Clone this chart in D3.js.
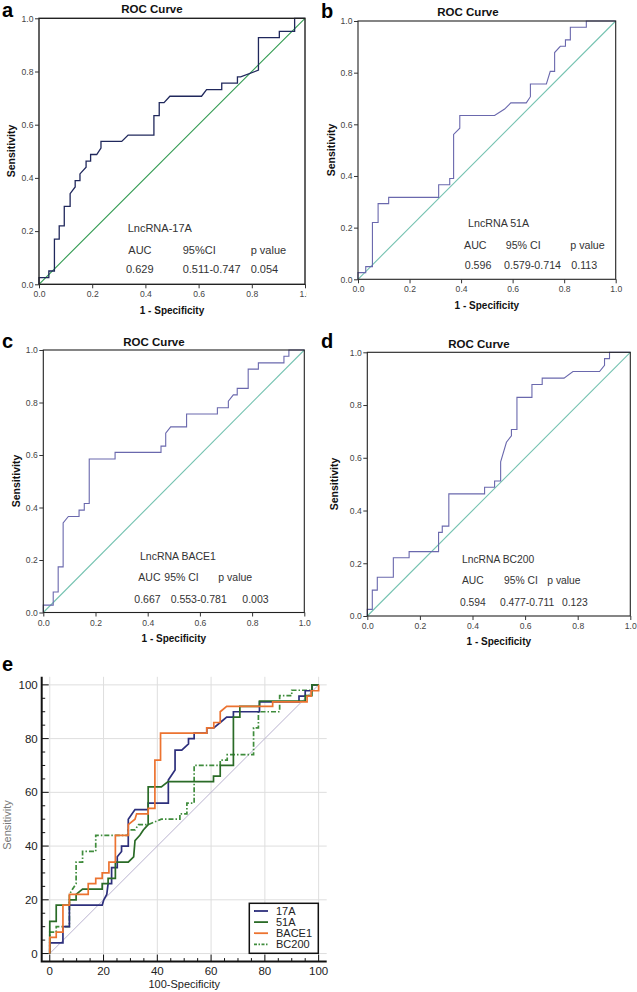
<!DOCTYPE html>
<html><head><meta charset="utf-8">
<script src="https://cdn.jsdelivr.net/npm/d3@7"></script>
<style>body{margin:0;background:#fff} svg{display:block;font-family:"Liberation Sans",Arial,sans-serif}</style>
</head><body><svg id="c" width="637" height="992"></svg>
<script>
// ---------- DATA ----------
// Panel a: LncRNA-17A ROC (1-specificity, sensitivity)
const fprA = [0,0,0.037,0.037,0.058,0.058,0.076,0.076,0.095,0.095,0.117,0.117,0.136,0.136,0.154,0.154,0.177,0.177,0.194,0.194,0.217,0.233,0.233,0.311,0.335,0.432,0.432,0.452,0.452,0.47,0.492,0.611,0.63,0.687,0.687,0.746,0.746,0.758,0.825,0.825,0.9035,0.9035,0.961,0.961,1];
const tprA = [0,0.025,0.025,0.05,0.05,0.17,0.17,0.22,0.22,0.293,0.293,0.341,0.366,0.39,0.39,0.415,0.44,0.463,0.463,0.488,0.488,0.512,0.537,0.537,0.561,0.561,0.634,0.634,0.683,0.683,0.707,0.707,0.732,0.732,0.756,0.756,0.78,0.78,0.805,0.927,0.927,0.951,0.951,1,1];
// Panel b: LncRNA 51A
const fprB = [0,0,0.03,0.03,0.056,0.056,0.078,0.078,0.119,0.119,0.313,0.313,0.356,0.356,0.371,0.371,0.395,0.395,0.53,0.569,0.593,0.653,0.669,0.669,0.731,0.746,0.763,0.763,0.785,0.805,0.805,0.824,0.824,0.886,0.886,1];
const tprB = [0,0.026,0.026,0.049,0.049,0.22,0.22,0.293,0.293,0.317,0.317,0.366,0.366,0.39,0.39,0.561,0.585,0.634,0.634,0.659,0.683,0.683,0.707,0.756,0.756,0.805,0.805,0.878,0.902,0.902,0.927,0.927,0.976,0.976,1,1];
// Panel c: LncRNA BACE1
const fprC = [0,0,0.038,0.038,0.057,0.057,0.076,0.076,0.096,0.137,0.137,0.157,0.157,0.176,0.176,0.275,0.275,0.451,0.451,0.469,0.469,0.488,0.549,0.549,0.667,0.667,0.709,0.709,0.728,0.743,0.743,0.785,0.785,0.824,0.824,0.922,0.922,0.941,0.941,1];
const tprC = [0,0.028,0.028,0.078,0.078,0.174,0.174,0.341,0.366,0.366,0.39,0.39,0.415,0.415,0.585,0.585,0.61,0.61,0.634,0.634,0.683,0.707,0.707,0.756,0.756,0.78,0.78,0.805,0.829,0.829,0.854,0.854,0.927,0.927,0.951,0.951,0.976,0.976,1,1];
// Panel d: LncRNA BC200
const fprD = [0,0,0.019,0.019,0.038,0.038,0.099,0.099,0.159,0.159,0.271,0.271,0.285,0.285,0.31,0.31,0.446,0.446,0.484,0.484,0.507,0.507,0.529,0.548,0.548,0.569,0.569,0.626,0.626,0.665,0.665,0.748,0.782,0.883,0.902,0.902,0.921,0.921,1];
const tprD = [0,0.025,0.025,0.098,0.098,0.147,0.147,0.221,0.221,0.244,0.244,0.317,0.317,0.341,0.341,0.463,0.463,0.488,0.488,0.512,0.512,0.585,0.659,0.683,0.707,0.707,0.829,0.829,0.878,0.878,0.902,0.902,0.927,0.927,0.951,0.976,0.976,1,1];

const panelLetters = ["a","b","c","d","e"];
const rocTitle = "ROC Curve";
const markerNames = ["LncRNA-17A","LncRNA 51A","LncRNA BACE1","LncRNA BC200"];
const headAUC = ["AUC","AUC","AUC","AUC"];
const headCI = ["95%CI","95% CI","95% CI","95% CI"];
const headP = ["p value","p value","p  value","p value"];
const aucVals = ["0.629","0.596","0.667","0.594"];
const ciVals = ["0.511-0.747","0.579-0.714","0.553-0.781","0.477-0.711"];
const pVals = ["0.054","0.113","0.003","0.123"];
const rocTicks = [0,0.2,0.4,0.6,0.8,1.0];

// Panel e: comparison (100-Specificity, Sensitivity in %)
const e17Ax = [0,0,4.9,4.9,7.3,7.3,19.5,20.1,21.2,21.7,23,23,25.1,25.1,26.7,26.7,29.2,29.2,31.7,36.6,36.6,44.1,44.1,46.6,46.6,49.1,51.6,51.6,53.7,53.7,58.4,58.4,61,63.4,65.8,68.3,68.3,78,78,92.7,92.7,95,95,97.6,97.6,100];
const e17Ay = [0,4,4,10,10,18,18,20,22,26,26,32,32,36,38,40,40,50,53.6,53.6,56,56,64.6,68.3,75.7,75.7,78,80,80,82,82,84,84,86,88,88,90,90,93.7,93.7,95.8,95.8,97.8,97.8,100,100];
const e51Ax = [0,0,2.4,2.4,7.3,7.3,9.8,9.8,12.2,19.5,19.5,21.7,21.7,24.4,24.4,29.2,31.2,31.7,33.5,34.8,36.6,36.6,41.5,44,60.9,60.9,63.4,63.4,68.3,68.3,70.7,70.7,78,78,95,95,97.5,97.5,100];
const e51Ay = [0,12,12,18,18,20,20,22,24,24,26,26,28,28,34,34,36,42,44,46,48,62,62,64,64,66,66,70,70,88,88,92,92,94,94,96,96,100,100];
const eBACE1x = [0,0,2.4,2.4,4.9,4.9,7.3,7.3,14.3,14.3,17.1,17.1,19.5,19.5,22,22,24.4,24.4,29.2,29.2,31.7,32.3,36.6,36.6,39.1,39.1,41.2,41.2,58.4,58.4,61,61,63.4,63.4,65.8,82.9,82.9,95.7,95.7,97.2,97.2,100,100];
const eBACE1y = [0,6,6,8,8,18,18,22,22,26,26,28,28,30,30,34,34,44,44,48,50,52,52,54,54,72,72,82,82,84,84,86,86,90,92,92,93.7,93.7,95.8,95.8,97.8,97.8,100];
const eBC200x = [0,0,2.4,2.4,7.3,7.3,8.5,9.8,9.8,12.2,12.2,17.1,17.1,29.2,29.2,31.7,33,36.6,39,41.5,48.4,48.4,51,51,53.7,53.7,63.4,63.4,66,66,75.8,75.8,77.6,77.6,85.5,85.5,90,90,97.5,97.5,100];
const eBC200y = [0,8,8,10,10,22,24,26,34,34,38,38,44,44,46,46,48,48,49,50,50,52,52,56,56,70,70,72,72,74,74,84,84,90,90,96,96,98,98,100,100];
const legendLabels = ["17A","51A","BACE1","BC200"];
const eTicks = [0,20,40,60,80,100];
const eMinor = d3.range(0,101,5);
const eXLabel = "100-Specificity";
const eYLabel = "Sensitivity";
const rocXLabel = "1 - Specificity";
const rocYLabel = "Sensitivity";

// ---------- DRAW ----------
const svg = d3.select("#c");
const FONT = '"Liberation Sans", Arial, sans-serif';

const panels = [
  {fpr:fprA,tpr:tprA,x0:39,x1:305,y0:284.3,y1:18.3,tx:152,ty:13,lx:2,ly:17,ylx:15,yly:151,xty:297,xly:314,
   curve:"#20285c",diag:"#2f9a4f",cw:1.3,fs:11,
   sx:[127.7,128.3,182.7,250.7],sy:[232,253.5,272.5],vx:[126,182.7,250.7]},
  {fpr:fprB,tpr:tprB,x0:358,x1:615.7,y0:279.3,y1:21,tx:468,ty:16,lx:321,ly:18,ylx:335,yly:150,xty:292.5,xly:309,
   curve:"#6a68ad",diag:"#74c2b0",cw:1.1,fs:10.7,
   sx:[468,464,505.7,570.3],sy:[227,248.5,269],vx:[464.7,504,571.3]},
  {fpr:fprC,tpr:tprC,x0:43.3,x1:304.3,y0:612.5,y1:350,tx:154,ty:345.5,lx:2,ly:348,ylx:20,yly:481,xty:625.5,xly:642,
   curve:"#6a68ad",diag:"#74c2b0",cw:1.1,fs:10.5,
   sx:[140,138.3,164.3,218.3],sy:[560,581,602.5],vx:[134.3,170.7,242.3]},
  {fpr:fprD,tpr:tprD,x0:367.3,x1:630.3,y0:616,y1:352.3,tx:479,ty:347.5,lx:321,ly:348,ylx:338,yly:484,xty:629,xly:645,
   curve:"#6a68ad",diag:"#74c2b0",cw:1.1,fs:10.3,
   sx:[462,462,504,547.3],sy:[563,583.5,606],vx:[460,500,562]}
];

const defs = svg.append("defs");
defs.append("clipPath").attr("id","cpA").append("rect")
  .attr("x",0).attr("y",0).attr("width",307).attr("height",330);

panels.forEach((p,i)=>{
  const g = svg.append("g").attr("clip-path", i===0 ? "url(#cpA)" : null);
  const sx = d3.scaleLinear().domain([0,1]).range([p.x0,p.x1]);
  const sy = d3.scaleLinear().domain([0,1]).range([p.y0,p.y1]);
  // diagonal
  g.append("path").attr("d", d3.line().x(d=>sx(d)).y(d=>sy(d))([0,1]))
    .attr("stroke",p.diag).attr("stroke-width",1.1).attr("fill","none");
  // curve
  const pts = p.fpr.map((v,k)=>[v,p.tpr[k]]);
  g.append("path").attr("d", d3.line().x(d=>sx(d[0])).y(d=>sy(d[1]))(pts))
    .attr("stroke",p.curve).attr("stroke-width",p.cw).attr("fill","none");
  // frame
  g.append("rect").attr("x",p.x0).attr("y",p.y1).attr("width",p.x1-p.x0).attr("height",p.y0-p.y1)
    .attr("fill","none").attr("stroke","#222").attr("stroke-width",i===0?1.4:1.1);
  // axes
  const ax = g.append("g").attr("transform",`translate(0,${p.y0})`)
    .call(d3.axisBottom(sx).tickValues(rocTicks).tickFormat(d3.format(".1f")).tickSize(4).tickPadding(2));
  const ay = g.append("g").attr("transform",`translate(${p.x0},0)`)
    .call(d3.axisLeft(sy).tickValues(rocTicks).tickFormat(d3.format(".1f")).tickSize(4).tickPadding(1.5));
  [ax,ay].forEach(a=>{
    a.select(".domain").remove();
    a.selectAll("line").attr("stroke","#333");
    a.selectAll("text").attr("font-size",8.6).attr("fill","#444").attr("font-family",FONT);
  });
  ax.selectAll("text").attr("dy",null).attr("y",p.xty - p.y0);
  // titles
  g.append("text").attr("x",p.tx).attr("y",p.ty).attr("text-anchor","middle")
    .attr("font-size",11.5).attr("font-weight","bold").attr("fill","#111").attr("font-family",FONT).text(rocTitle);
  g.append("text").attr("x",(p.x0+p.x1)/2).attr("y",p.xly).attr("text-anchor","middle")
    .attr("font-size",10).attr("font-weight","bold").attr("fill","#111").attr("font-family",FONT).text(rocXLabel);
  g.append("text").attr("transform",`translate(${p.ylx},${p.yly}) rotate(-90)`).attr("text-anchor","middle")
    .attr("font-size",10.5).attr("font-weight","bold").attr("fill","#111").attr("font-family",FONT).text(rocYLabel);
  svg.append("text").attr("x",p.lx).attr("y",p.ly).attr("font-size",20).attr("font-weight","bold")
    .attr("fill","#000").attr("font-family",FONT).text(panelLetters[i]);
  // stats text
  const st = (x,y,t)=>g.append("text").attr("x",x).attr("y",y).attr("font-size",p.fs)
    .attr("fill","#333").attr("font-family",FONT).text(t);
  st(p.sx[0],p.sy[0],markerNames[i]);
  st(p.sx[1],p.sy[1],headAUC[i]);
  st(p.sx[2],p.sy[1],headCI[i]);
  st(p.sx[3],p.sy[1],headP[i]);
  st(p.vx[0],p.sy[2],aucVals[i]);
  st(p.vx[1],p.sy[2],ciVals[i]);
  st(p.vx[2],p.sy[2],pVals[i]);
});

// ---------- Panel e ----------
const ex = d3.scaleLinear().domain([-3,103]).range([41.7,326.7]);
const ey = d3.scaleLinear().domain([-3,103]).range([961.6,676.8]);
const ge = svg.append("g");
// grid
ge.selectAll(".gv").data(eTicks).enter().append("line")
  .attr("x1",d=>ex(d)).attr("x2",d=>ex(d)).attr("y1",ey(103)).attr("y2",ey(-3))
  .attr("stroke","#dedede").attr("stroke-width",1);
ge.selectAll(".gh").data(eTicks).enter().append("line")
  .attr("y1",d=>ey(d)).attr("y2",d=>ey(d)).attr("x1",ex(-3)).attr("x2",ex(103))
  .attr("stroke","#dedede").attr("stroke-width",1);
// diagonal
ge.append("path").attr("d",d3.line().x(d=>ex(d)).y(d=>ey(d))([0,100]))
  .attr("stroke","#b9b2cf").attr("stroke-width",1).attr("fill","none");
const eLine = d3.line().x(d=>ex(d[0])).y(d=>ey(d[1]));
const series = [
  {x:eBC200x,y:eBC200y,c:"#3f8c3c",dash:"5,2,1.5,2"},
  {x:e17Ax,y:e17Ay,c:"#2d2f7c",dash:null},
  {x:e51Ax,y:e51Ay,c:"#2a6b27",dash:null},
  {x:eBACE1x,y:eBACE1y,c:"#ec7330",dash:null}
];
series.forEach(s=>{
  ge.append("path").attr("d",eLine(s.x.map((v,k)=>[v,s.y[k]])))
    .attr("stroke",s.c).attr("stroke-width",1.7).attr("fill","none")
    .attr("stroke-dasharray",s.dash);
});
// axes
const eax = ge.append("g").attr("transform",`translate(0,${ey(-3)})`);
eax.selectAll(".mt").data(eMinor).enter().append("line")
  .attr("x1",d=>ex(d)).attr("x2",d=>ex(d)).attr("y1",0).attr("y2",d=>d%20===0?-7:-3.5)
  .attr("stroke","#111").attr("stroke-width",1);
eax.selectAll(".lb").data(eTicks).enter().append("text")
  .attr("x",d=>ex(d)).attr("y",13.6).attr("text-anchor","middle")
  .attr("font-size",11.5).attr("fill","#222").attr("font-family",FONT).text(d=>d);
const eay = ge.append("g").attr("transform",`translate(${ex(-3)},0)`);
eay.selectAll(".mt").data(eMinor).enter().append("line")
  .attr("y1",d=>ey(d)).attr("y2",d=>ey(d)).attr("x1",0).attr("x2",d=>d%20===0?7:3.5)
  .attr("stroke","#111").attr("stroke-width",1);
eay.selectAll(".lb").data(eTicks).enter().append("text")
  .attr("x",-4).attr("y",d=>ey(d)).attr("dy","0.35em").attr("text-anchor","end")
  .attr("font-size",11.5).attr("fill","#222").attr("font-family",FONT).text(d=>d);
ge.append("path").attr("d",`M${ex(-3)},${ey(103)}V${ey(-3)}H${ex(103)}`)
  .attr("stroke","#111").attr("stroke-width",2).attr("fill","none");
ge.append("text").attr("x",ex(50)).attr("y",988).attr("text-anchor","middle")
  .attr("font-size",11).attr("fill","#222").attr("font-family",FONT).text(eXLabel);
ge.append("text").attr("transform",`translate(11,825) rotate(-90)`).attr("text-anchor","middle")
  .attr("font-size",11).attr("fill","#777").attr("font-family",FONT).text(eYLabel);
svg.append("text").attr("x",2).attr("y",671).attr("font-size",20).attr("font-weight","bold")
  .attr("fill","#000").attr("font-family",FONT).text(panelLetters[4]);
// legend
const lg = ge.append("g");
lg.append("rect").attr("x",249.3).attr("y",903.3).attr("width",69).attr("height",50)
  .attr("fill","#fff").attr("stroke","#111").attr("stroke-width",1.5);
const legRows = d3.scaleLinear().domain([0,3]).range([911,944.3]);
const legStyle = [series[1],series[2],series[3],series[0]];
legendLabels.forEach((t,k)=>{
  lg.append("line").attr("x1",254).attr("x2",268).attr("y1",legRows(k)).attr("y2",legRows(k))
    .attr("stroke",legStyle[k].c).attr("stroke-width",1.8).attr("stroke-dasharray",legStyle[k].dash ? "3,1.5,1.5,1.5" : null);
  lg.append("text").attr("x",276).attr("y",legRows(k)).attr("dy","0.35em")
    .attr("font-size",11).attr("fill","#222").attr("font-family",FONT).text(t);
});
</script></body></html>
